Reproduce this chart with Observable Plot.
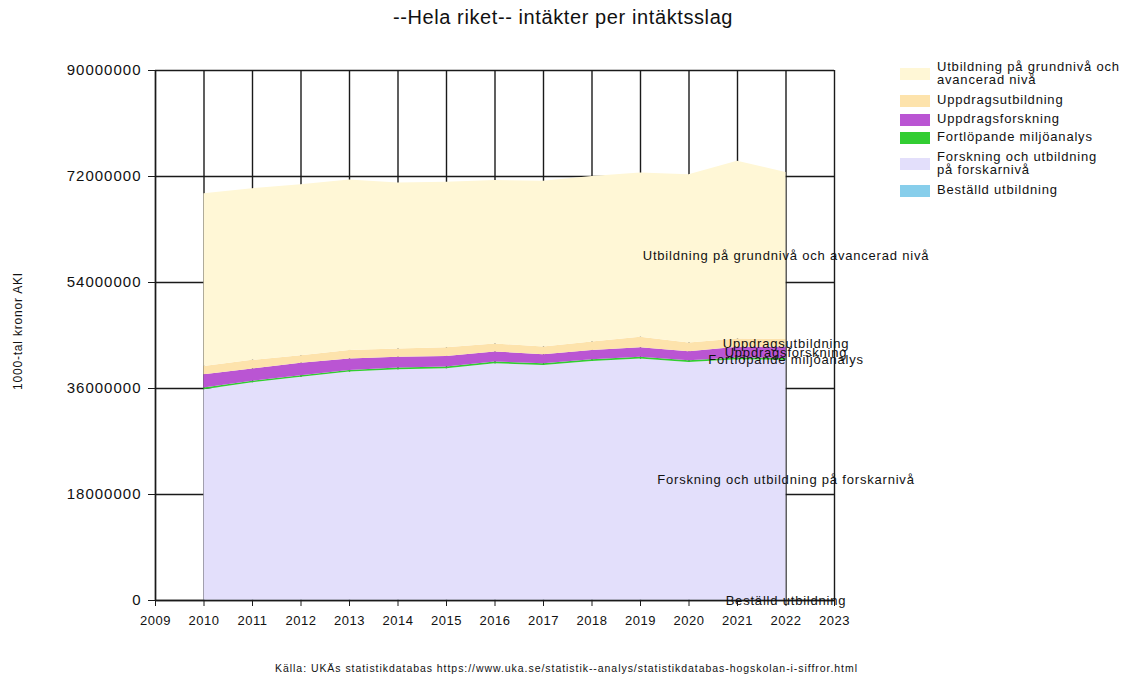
<!DOCTYPE html>
<html>
<head>
<meta charset="utf-8">
<script src="https://cdn.jsdelivr.net/npm/d3@7"></script>
<script src="https://cdn.jsdelivr.net/npm/@observablehq/plot@0.6"></script>
<style>
  html, body { margin: 0; padding: 0; background: #fff; }
  #wrap { position: relative; width: 1126px; height: 679px; font-family: "Liberation Sans", Arial, sans-serif; color: #111; }
  #wrap svg { position: absolute; left: 0; top: 0; }
  #wrap svg text { letter-spacing: 0.8px; }
  #wrap svg g[aria-label="y-axis tick label"] text { letter-spacing: 1px; }
  #wrap svg g[aria-label="x-axis tick label"] text { letter-spacing: 0.5px; }
  .abs { position: absolute; white-space: nowrap; }
  #title { left: 0; width: 1126px; top: 6px; text-align: center; font-size: 20px; letter-spacing: 0.6px; }
  #ylab { left: 18px; top: 331px; font-size: 12px; letter-spacing: 0.8px; transform: translate(-50%, -50%) rotate(-90deg); }
  #footer { left: 0; width: 1133px; top: 662px; text-align: center; font-size: 10.5px; letter-spacing: 0.95px; }
  .sw { position: absolute; left: 900px; width: 30px; height: 12px; }
  .lt { position: absolute; left: 937px; font-size: 13px; line-height: 13.5px; white-space: nowrap; letter-spacing: 0.8px; }
</style>
</head>
<body>
<div id="wrap">
  <div id="title" class="abs">--Hela riket-- intäkter per intäktsslag</div>
  <div id="ylab" class="abs">1000-tal kronor AKI</div>
  <div id="footer" class="abs">Källa: UKÄs statistikdatabas https://www.uka.se/statistik--analys/statistikdatabas-hogskolan-i-siffror.html</div>
  <div id="legend"></div>
</div>
<script>
// ---- data (1000-tal kronor) ----
const years = [2010, 2011, 2012, 2013, 2014, 2015, 2016, 2017, 2018, 2019, 2020, 2021, 2022];
const bestalldUtbildning = [30000, 30000, 30000, 30000, 30000, 30000, 30000, 30000, 30000, 30000, 30000, 30000, 30000];
const forskningForskarniva = [35770000, 36940000, 37870000, 38770000, 39170000, 39320000, 40170000, 39870000, 40570000, 40970000, 40370000, 40870000, 40770000];
const miljoanalys = [270000, 260000, 280000, 270000, 290000, 280000, 300000, 290000, 300000, 300000, 310000, 300000, 300000];
const uppdragsforskning = [2250000, 2100000, 2100000, 1950000, 1800000, 1800000, 1700000, 1550000, 1550000, 1600000, 1550000, 1800000, 1900000];
const uppdragsutbildning = [1400000, 1450000, 1300000, 1450000, 1400000, 1500000, 1350000, 1300000, 1450000, 1800000, 1450000, 1400000, 1300000];
const grundAvancerad = [29350000, 29150000, 29000000, 28950000, 28200000, 28100000, 27750000, 28150000, 28100000, 27900000, 28600000, 30200000, 28400000];

// stacking order, bottom to top
const seriesNames = [
  "Beställd utbildning",
  "Forskning och utbildning på forskarnivå",
  "Fortlöpande miljöanalys",
  "Uppdragsforskning",
  "Uppdragsutbildning",
  "Utbildning på grundnivå och avancerad nivå"
];
const seriesValues = [bestalldUtbildning, forskningForskarniva, miljoanalys, uppdragsforskning, uppdragsutbildning, grundAvancerad];
const seriesColors = ["#87CEEB", "#E3DFFB", "#32CD32", "#BA55D3", "#FDE3AC", "#FFF7D6"];

const xTicks = [2009, 2010, 2011, 2012, 2013, 2014, 2015, 2016, 2017, 2018, 2019, 2020, 2021, 2022, 2023];
const yTicks = [0, 18000000, 36000000, 54000000, 72000000, 90000000];

// legend order (top to bottom) with display lines
const legendItems = [
  {name: "Utbildning på grundnivå och avancerad nivå", lines: ["Utbildning på grundnivå och", "avancerad nivå"]},
  {name: "Uppdragsutbildning", lines: ["Uppdragsutbildning"]},
  {name: "Uppdragsforskning", lines: ["Uppdragsforskning"]},
  {name: "Fortlöpande miljöanalys", lines: ["Fortlöpande miljöanalys"]},
  {name: "Forskning och utbildning på forskarnivå", lines: ["Forskning och utbildning", "på forskarnivå"]},
  {name: "Beställd utbildning", lines: ["Beställd utbildning"]}
];
const legendCenters = [74, 101, 120, 138, 164, 191];

// ---- build table ----
const data = [];
seriesNames.forEach((s, i) => {
  years.forEach((yr, j) => data.push({series: s, year: yr, value: seriesValues[i][j]}));
});

const lineColor = "#1a1a1a";
const plot = Plot.plot({
  width: 1126,
  height: 679,
  marginLeft: 155,
  marginRight: 292,
  marginTop: 70,
  marginBottom: 79,
  style: {fontFamily: "'Liberation Sans', Arial, sans-serif", fontSize: "13px", color: "#111", background: "transparent"},
  x: {domain: [2009, 2023]},
  y: {domain: [0, 90000000]},
  color: {domain: seriesNames, range: seriesColors},
  marks: [
    Plot.ruleX(xTicks, {stroke: lineColor, strokeWidth: 1.4}),
    Plot.ruleY(yTicks, {stroke: lineColor, strokeWidth: 1.4}),
    Plot.areaY(data, {x: "year", y: "value", z: "series", fill: "series", order: seriesNames}),
    Plot.ruleY([0], {stroke: lineColor, strokeWidth: 1.4}),
    Plot.ruleX([2009], {stroke: lineColor, strokeWidth: 1.4}),
    Plot.axisX({ticks: xTicks, tickFormat: d => String(d), tickSize: 6, tickPadding: 9, stroke: lineColor, fontSize: 13, label: null}),
    Plot.axisY({ticks: yTicks, tickFormat: d => String(d), tickSize: 7, tickPadding: 7, stroke: lineColor, fontSize: 15, label: null}),
    Plot.text(data, Plot.stackY({
      x: "year", y: "value", z: "series", order: seriesNames,
      text: "series", filter: d => d.year === 2022,
      fill: "#111", fontSize: 13, textAnchor: "middle"
    }))
  ]
});
document.getElementById("wrap").appendChild(plot);

// ---- legend ----
const legend = document.getElementById("legend");
legendItems.forEach((item, i) => {
  const idx = seriesNames.indexOf(item.name);
  const c = legendCenters[i];
  const sw = document.createElement("div");
  sw.className = "sw";
  sw.style.top = (c - 6) + "px";
  sw.style.background = seriesColors[idx];
  legend.appendChild(sw);
  const t = document.createElement("div");
  t.className = "lt";
  t.innerHTML = item.lines.join("<br>");
  t.style.top = (c - item.lines.length * 13.5 / 2 - 1) + "px";
  legend.appendChild(t);
});
</script>
</body>
</html>
